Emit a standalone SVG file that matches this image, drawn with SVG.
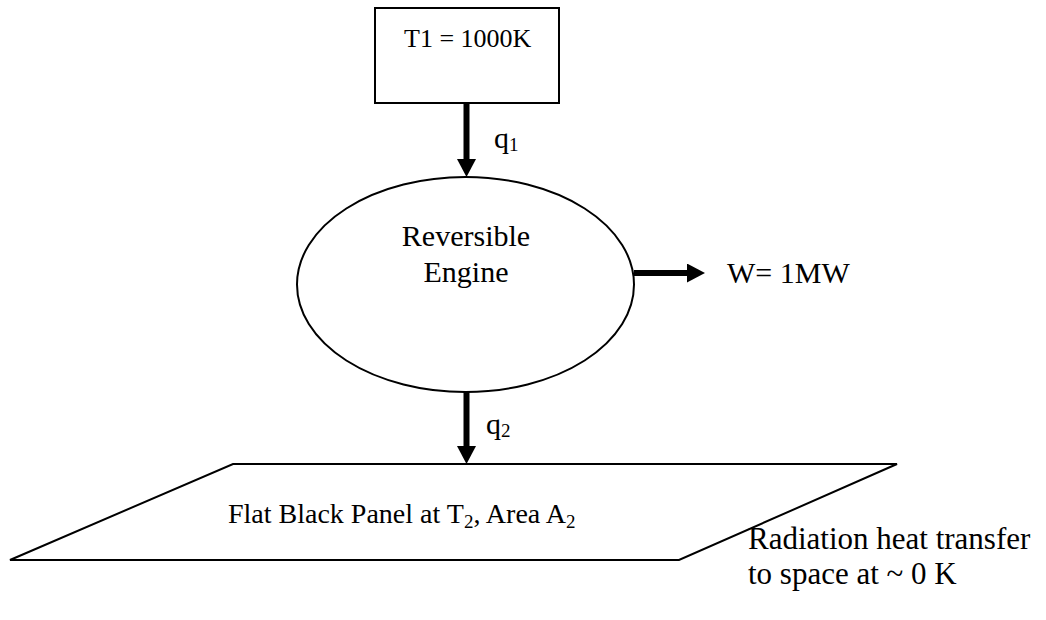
<svg xmlns="http://www.w3.org/2000/svg" width="1046" height="620" viewBox="0 0 1046 620">
  <style>
    .shape { fill: #ffffff; stroke: #000000; stroke-width: 2; }
    .txt { font-family: "Liberation Serif", "Times New Roman", serif; font-size: 30px; fill: #000000; }
    .sub { font-size: 19px; }
    .conn { stroke: #000000; stroke-width: 6; fill: none; }
  </style>
  <defs>
    <marker id="head" markerUnits="userSpaceOnUse" markerWidth="18" markerHeight="19" refX="0" refY="9.5" orient="auto">
      <path d="M0,0 L18,9.5 L0,19 Z" fill="#000000"/>
    </marker>
  </defs>
  <rect width="1046" height="620" fill="#ffffff"/>

  <g id="source">
    <rect class="shape" x="375" y="8" width="184" height="95"/>
    <text class="txt" x="404" y="47" style="font-size:26px">T1 = 1000K</text>
  </g>

  <g id="engine">
    <ellipse class="shape" cx="465.5" cy="284.5" rx="168.5" ry="107.5"/>
    <text class="txt" x="466" y="246" text-anchor="middle">Reversible</text>
    <text class="txt" x="466" y="282" text-anchor="middle">Engine</text>
  </g>

  <g id="panel">
    <polygon class="shape" points="233,464 897,464 679,560 10,560"/>
    <text class="txt" x="228" y="523" style="font-size:28px">Flat Black Panel at T<tspan class="sub" dy="5">2</tspan><tspan dy="-5">, Area A</tspan><tspan class="sub" dy="5">2</tspan></text>
  </g>

  <g id="work-label">
    <text class="txt" x="727" y="283">W= 1MW</text>
  </g>

  <g id="radiation-label">
    <text class="txt" x="748" y="549" style="font-size:31px">Radiation heat transfer</text>
    <text class="txt" x="748" y="584" style="font-size:31px">to space at ~ 0 K</text>
  </g>

  <g id="connectors">
    <line class="conn" x1="466.5" y1="103" x2="466.5" y2="159" marker-end="url(#head)"/>
    <text class="txt" x="494" y="148">q<tspan class="sub" dy="3">1</tspan></text>
    <line class="conn" x1="634" y1="273" x2="687" y2="273" marker-end="url(#head)"/>
    <line class="conn" x1="466.5" y1="392" x2="466.5" y2="446" marker-end="url(#head)"/>
    <text class="txt" x="486" y="434">q<tspan class="sub" dy="3">2</tspan></text>
  </g>
</svg>
